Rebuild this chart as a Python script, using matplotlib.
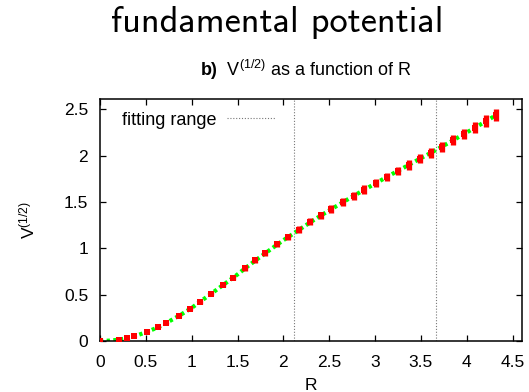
import matplotlib
matplotlib.use("Agg")
import matplotlib.pyplot as plt
from matplotlib.lines import Line2D

# ---- data ----
R_data = [0.0, 0.207, 0.298, 0.368, 0.516, 0.630, 0.724, 0.866, 0.986, 1.088,
          1.215, 1.340, 1.449, 1.578, 1.695, 1.804, 1.936, 2.056, 2.169, 2.296,
          2.416, 2.525, 2.653, 2.773, 2.885, 3.013, 3.133, 3.250, 3.373, 3.493,
          3.610, 3.734, 3.854, 3.970, 4.091, 4.214, 4.323]
V_data = [0.0, 0.014, 0.032, 0.051, 0.100, 0.148, 0.197, 0.273, 0.348, 0.421,
          0.510, 0.601, 0.680, 0.782, 0.871, 0.946, 1.043, 1.125, 1.199, 1.284,
          1.356, 1.424, 1.500, 1.568, 1.633, 1.705, 1.769, 1.834, 1.898, 1.966,
          2.031, 2.096, 2.165, 2.233, 2.301, 2.373, 2.438]
V_err = [0.0, 0.003, 0.005, 0.006, 0.008, 0.010, 0.011, 0.013, 0.015, 0.017,
         0.019, 0.021, 0.023, 0.025, 0.027, 0.029, 0.032, 0.034, 0.036, 0.038,
         0.040, 0.041, 0.043, 0.044, 0.045, 0.046, 0.047, 0.048, 0.050, 0.051,
         0.052, 0.054, 0.056, 0.058, 0.060, 0.063, 0.066]

R_fit = [0.0, 0.1, 0.2, 0.3, 0.4, 0.5, 0.6, 0.7, 0.8, 0.9, 1.0, 1.1, 1.2, 1.3,
         1.4, 1.5, 1.6, 1.7, 1.8, 1.9, 2.0, 2.1, 2.2, 2.3, 2.4, 2.5, 2.6, 2.7,
         2.8, 2.9, 3.0, 3.1, 3.2, 3.3, 3.4, 3.5, 3.6, 3.7, 3.8, 3.9, 4.0, 4.1,
         4.2, 4.3]
V_fit = [0.0, 0.004, 0.013, 0.032, 0.059, 0.094, 0.134, 0.183, 0.237, 0.295,
         0.357, 0.430, 0.500, 0.573, 0.645, 0.718, 0.797, 0.872, 0.944, 1.016,
         1.087, 1.152, 1.218, 1.284, 1.347, 1.408, 1.467, 1.526, 1.584, 1.640,
         1.697, 1.753, 1.808, 1.862, 1.917, 1.971, 2.025, 2.080, 2.135, 2.192,
         2.249, 2.306, 2.364, 2.424]

fit_range = [2.12, 3.66]
x_ticks = [0, 0.5, 1, 1.5, 2, 2.5, 3, 3.5, 4, 4.5]
x_ticklabels = ["0", "0.5", "1", "1.5", "2", "2.5", "3", "3.5", "4", "4.5"]
y_ticks = [0, 0.5, 1, 1.5, 2, 2.5]
y_ticklabels = ["0", "0.5", "1", "1.5", "2", "2.5"]

plt.rcParams['font.family'] = ['Liberation Sans', 'DejaVu Sans']
plt.rcParams['mathtext.fontset'] = 'custom'
plt.rcParams['mathtext.rm'] = 'Liberation Sans'
plt.rcParams['mathtext.bf'] = 'Liberation Sans:bold'
plt.rcParams['mathtext.it'] = 'Liberation Sans:italic'
plt.rcParams['mathtext.default'] = 'regular'

W, H = 529, 392
fig = plt.figure(figsize=(W / 100, H / 100), dpi=100)
ax = fig.add_axes([100 / W, 1 - 341 / H, 421.7 / W, 242 / H])

ax.plot(R_fit, V_fit, color='#00ff00', lw=3.0, linestyle=(0, (0.8, 0.8)),
        zorder=2)
ax.errorbar(R_data, V_data, yerr=V_err, fmt='s', color='#ff0000',
            ms=4.0, mew=0, elinewidth=3.8, capsize=0, zorder=3)

for xv in fit_range:
    ax.axvline(xv, color='#777777', lw=0.8, linestyle=(0, (1, 1.6)), zorder=1)

handle = Line2D([], [], color='#777777', lw=0.8, linestyle=(0, (1, 1.6)))
leg = ax.legend([handle], ['fitting range'], loc='upper left',
                bbox_to_anchor=(0.031, 0.985), frameon=False, markerfirst=False,
                handlelength=2.7, fontsize=13, borderpad=0, handletextpad=0.55)

ax.set_xlim(0, 4.6)
ax.set_ylim(0, 2.61)
ax.set_xticks(x_ticks)
ax.set_xticklabels(x_ticklabels)
ax.set_yticks(y_ticks)
ax.set_yticklabels(y_ticklabels)
ax.tick_params(direction='in', top=True, right=True, length=4.5, width=0.9,
               labelsize=12.5)
ax.tick_params(axis='x', pad=10)
ax.tick_params(axis='y', pad=8.5)
for s in ax.spines.values():
    s.set_linewidth(1.1)

ax.set_xlabel('R', fontsize=12.5, labelpad=5.5)
ax.set_ylabel('V$^{(1/2)}$', fontsize=12.5, labelpad=19)

fig.text(306 / W, 1 - 76 / H, r'$\mathbf{b)}$  V$^{(1/2)}$ as a function of R',
         fontsize=13, ha='center', va='baseline')
fig.text(276.7 / W, 1 - 32 / H, 'fundamental potential', family='cmss10',
         fontsize=26.2, ha='center', va='baseline')

fig.savefig('out.png', dpi=100)
